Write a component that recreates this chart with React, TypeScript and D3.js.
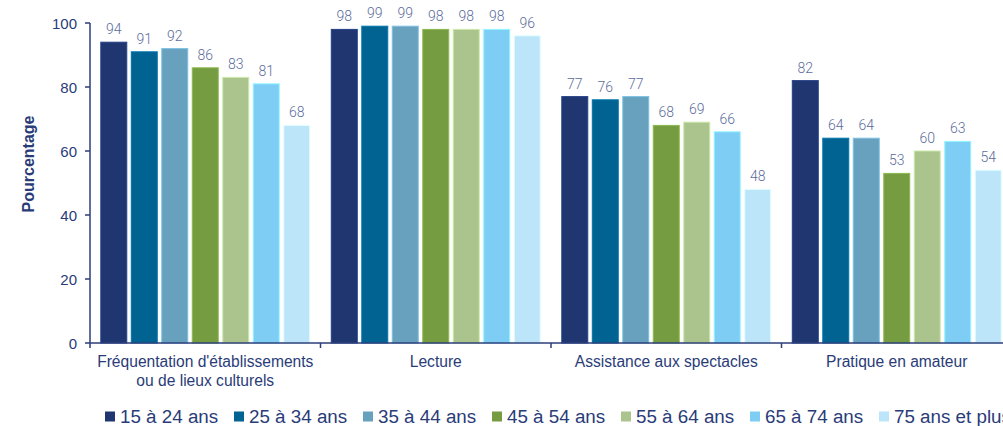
import React from "react";
import * as d3 from "d3";

const categories = [
  ["Fréquentation d'établissements", "ou de lieux culturels"],
  ["Lecture"],
  ["Assistance aux spectacles"],
  ["Pratique en amateur"],
];
const seriesNames = ["15 à 24 ans", "25 à 34 ans", "35 à 44 ans", "45 à 54 ans", "55 à 64 ans", "65 à 74 ans", "75 ans et plus"];
const seriesColors = ["#1f3670", "#006391", "#68a1be", "#769c42", "#abc38d", "#7dcdf5", "#bde5f9"];
// values per category for each age group
const frequentation = [94, 91, 92, 86, 83, 81, 68];
const lecture = [98, 99, 99, 98, 98, 98, 96];
const assistance = [77, 76, 77, 68, 69, 66, 48];
const pratique = [82, 64, 64, 53, 60, 63, 54];
const values = [frequentation, lecture, assistance, pratique];
const yTicks = [0, 20, 40, 60, 80, 100];

const W = 1003;
const H = 426;
const axisColor = "#2c3e7a";
const textColor = "#2a3c78";
const labelColor = "#5b6c9c";

export default function App() {
  const left = 90;
  const right = 1012;
  const top = 23;
  const bottom = 343;
  const x0 = d3.scaleBand<number>().domain(d3.range(categories.length)).range([left, right]).padding(0);
  const x1 = d3
    .scaleBand<number>()
    .domain(d3.range(seriesNames.length))
    .range([0, x0.bandwidth()])
    .paddingInner(0.148)
    .paddingOuter(0.354);
  const y = d3.scaleLinear().domain([0, 100]).range([bottom, top]);

  const legendStart = 105;
  const legendPitch = 129;

  return (
    <svg width={W} height={H} style={{ position: "absolute", left: 0, top: 0, fontFamily: "Arial, 'Liberation Sans', sans-serif" }}>
      {/* bars */}
      {values.map((row, ci) =>
        row.map((v, si) => {
          const c = seriesColors[si];
          const stroke = d3.color(c)!.brighter(0.5).formatHex();
          return (
            <g key={`${ci}-${si}`}>
              <rect
                x={x0(ci)! + x1(si)!}
                y={y(v)}
                width={x1.bandwidth()}
                height={y(0) - y(v)}
                fill={c}
                stroke={stroke}
                strokeWidth={1}
              />
              <text
                x={x0(ci)! + x1(si)! + x1.bandwidth() / 2}
                y={y(v) - 8}
                textAnchor="middle"
                fontSize={14}
                fill={labelColor}
                style={{ fontFamily: "Roboto, 'Open Sans', sans-serif", fontWeight: 300 }}
              >
                {v}
              </text>
            </g>
          );
        })
      )}
      {/* y axis */}
      <line x1={left} x2={left} y1={top} y2={bottom} stroke={axisColor} strokeWidth={1.5} />
      {yTicks.map((t) => (
        <g key={t}>
          <line x1={left - 5} x2={left} y1={y(t)} y2={y(t)} stroke={axisColor} strokeWidth={1.5} />
          <text x={left - 13} y={y(t) + 5.5} textAnchor="end" fontSize={15} fill={textColor}>
            {t}
          </text>
        </g>
      ))}
      {/* x axis */}
      <line x1={left} x2={W} y1={bottom} y2={bottom} stroke={axisColor} strokeWidth={1.5} />
      {d3.range(categories.length + 1).map((i) => {
        const xx = i < categories.length ? x0(i)! : right;
        return <line key={i} x1={xx} x2={xx} y1={bottom} y2={bottom + 5} stroke={axisColor} strokeWidth={1.5} />;
      })}
      {categories.map((lines, ci) => (
        <text key={ci} x={x0(ci)! + x0.bandwidth() / 2} y={367} textAnchor="middle" fontSize={15.6} fill={textColor}>
          {lines.map((l, li) => (
            <tspan key={li} x={x0(ci)! + x0.bandwidth() / 2} dy={li === 0 ? 0 : 18.5}>
              {l}
            </tspan>
          ))}
        </text>
      ))}
      {/* y label */}
      <text
        transform={`translate(33.5, ${(top + bottom) / 2 - 19}) rotate(-90)`}
        textAnchor="middle"
        fontSize={16}
        fontWeight="bold"
        fill={textColor}
      >
        Pourcentage
      </text>
      {/* legend */}
      {seriesNames.map((n, i) => (
        <g key={n} transform={`translate(${legendStart + i * legendPitch}, 416.5)`}>
          <rect x={0} y={-5} width={10} height={10} fill={seriesColors[i]} />
          <text x={15} y={6.5} fontSize={18.8} fill={textColor}>
            {n}
          </text>
        </g>
      ))}
    </svg>
  );
}
